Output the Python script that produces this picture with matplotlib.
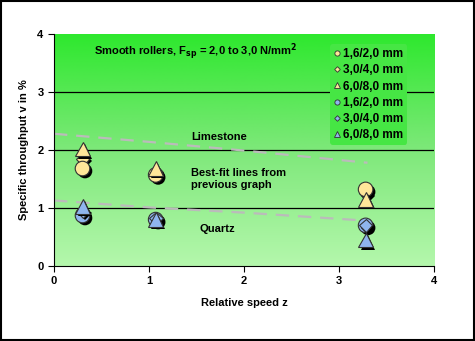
import numpy as np
import matplotlib
matplotlib.use("Agg")
from matplotlib import pyplot as plt
from matplotlib import patheffects as pe
from matplotlib.colors import LinearSegmentedColormap

# data
z = [0.3, 1.07, 3.28]
lime_circle = [1.68, 1.57, 1.32]
lime_diamond = [1.85, 1.62, 1.25]
lime_triangle = [2.02, 1.68, 1.15]
quartz_circle = [0.87, 0.80, 0.70]
quartz_diamond = [0.95, 0.82, 0.70]
quartz_triangle = [1.03, 0.80, 0.45]
sizes = ["1,6/2,0 mm", "3,0/4,0 mm", "6,0/8,0 mm"]

fit_z = [0.0, 1.0, 2.0, 3.3]
fit_lime = [2.28, 2.14, 1.99, 1.78]
fit_quartz = [1.13, 1.01, 0.92, 0.78]

plt.rcParams['font.family'] = ['Liberation Sans', 'DejaVu Sans']
plt.rcParams['font.weight'] = 'bold'
plt.rcParams['axes.labelweight'] = 'bold'

fig = plt.figure(figsize=(4.75, 3.41), dpi=100)
ax = fig.add_axes([0.1137, 0.22, 0.80, 0.6803])

# green gradient background
cmap = LinearSegmentedColormap.from_list("g", ["#b4f7ac", "#7ee87a", "#2ee82e"])
grad = np.linspace(0, 1, 256).reshape(-1, 1)
ax.imshow(grad, extent=[0, 4, 0, 4], origin="lower", aspect="auto", cmap=cmap, zorder=0)

for yv in [1, 2, 3]:
    ax.axhline(yv, color="black", lw=0.9, zorder=1)

ax.plot(fit_z, fit_lime, color="#bbbbbb", lw=1.6, ls=(0, (6, 4)), zorder=2)
ax.plot(fit_z, fit_quartz, color="#bbbbbb", lw=1.6, ls=(0, (6, 4)), zorder=2)

shadow = [pe.SimplePatchShadow(offset=(1.8, -1.8), shadow_rgbFace="black", alpha=1.0), pe.Normal()]
yellow = "#ffe699"
blue = "#8fb5ee"
series = [
    (lime_circle, "o", yellow, sizes[0], 10.5, 3.2),
    (lime_diamond, "D", yellow, sizes[1], 7, 3.1),
    (lime_triangle, "^", yellow, sizes[2], 10.5, 3.3),
    (quartz_circle, "o", blue, sizes[0], 10.5, 3.2),
    (quartz_diamond, "D", blue, sizes[1], 7, 3.25),
    (quartz_triangle, "^", blue, sizes[2], 10.5, 3.3),
]
handles = []
for vals, m, c, lab, ms, zo in series:
    ax.plot(z, vals, ls="none", marker=m, ms=ms, mfc=c, mec="#333333", mew=0.8,
            path_effects=shadow, zorder=zo)
    h, = ax.plot([], [], ls="none", marker=m, ms=5 if m != "D" else 3.8, mfc=c,
                 mec="#333333", mew=0.6, label=lab)
    handles.append(h)

leg = ax.legend(handles=handles, loc="upper right", bbox_to_anchor=(0.935, 0.965),
                frameon=True, facecolor="#46e644", edgecolor="none", framealpha=1,
                fontsize=8.5, handlelength=0.5, handletextpad=0.3, labelspacing=0.36,
                borderpad=0.3, borderaxespad=0.2, markerscale=0.75)
leg.set_zorder(5)

ax.text(0.42, 3.7, r"Smooth rollers, F$_{\mathbf{sp}}$ = 2,0 to 3,0 N/mm$^{\mathbf{2}}$",
        fontsize=8, va="center", zorder=4)
ax.text(1.44, 2.22, "Limestone", fontsize=8, va="center", zorder=4)
ax.text(1.44, 1.5, "Best-fit lines from\nprevious graph", fontsize=8, va="center",
        linespacing=1.3, zorder=4)
ax.text(1.53, 0.63, "Quartz", fontsize=8, va="center", zorder=4)

ax.set_xlim(0, 4)
ax.set_ylim(0, 4)
ax.set_xticks([0, 1, 2, 3, 4])
ax.set_yticks([0, 1, 2, 3, 4])
ax.tick_params(direction="out", length=4, labelsize=8)
for lbl in ax.get_xticklabels() + ax.get_yticklabels():
    lbl.set_fontweight("bold")
ax.spines["top"].set_visible(False)
ax.spines["right"].set_visible(False)
ax.set_xlabel("Relative speed z", fontsize=8, labelpad=8)
ax.set_ylabel("Specific throughput v in %", fontsize=8, labelpad=6)

# outer border
fig.patches.append(plt.Rectangle((0.002, 0.003), 0.996, 0.994, transform=fig.transFigure,
                                 fill=False, edgecolor="black", lw=1.5))

fig.savefig("out.png", dpi=100)
